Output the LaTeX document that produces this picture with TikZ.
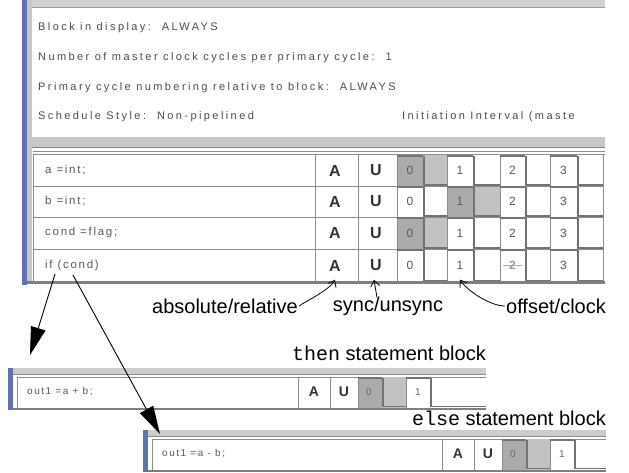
\documentclass[tikz,border=0pt]{standalone}
\usepackage{fontspec}
\setmainfont{Liberation Sans}
\newfontfamily\scrfont[LetterSpace=22]{Liberation Sans}
\newfontfamily\cellfont[LetterSpace=15]{Liberation Sans}
\newfontfamily\monofont{Liberation Mono}
\usetikzlibrary{arrows.meta,calc}
\definecolor{barblue}{RGB}{96,114,176}
\tikzset{
  hdr/.style={anchor=west, font=\scrfont\fontsize{11}{13}\selectfont, text=black!70, inner sep=0pt},
  celltxt/.style={anchor=west, font=\cellfont\fontsize{11.5}{13}\selectfont, text=black!65, inner sep=0pt},
  minitxt/.style={anchor=west, font=\cellfont\fontsize{10}{12}\selectfont, text=black!65, inner sep=0pt},
  AU/.style={font=\bfseries\fontsize{16}{18}\selectfont, text=black!80, inner sep=0pt, minimum width=36pt, minimum height=30pt},
  miniAU/.style={font=\bfseries\fontsize{14}{16}\selectfont, text=black!80, inner sep=0pt, minimum width=28pt, minimum height=29pt},
  num/.style={font=\fontsize{12}{14}\selectfont, text=black!65, inner sep=0pt, minimum width=24pt, minimum height=30pt},
  mininum/.style={font=\fontsize{10}{12}\selectfont, text=black!60, inner sep=0pt, minimum width=22pt, minimum height=29pt},
  lab/.style={font=\fontsize{20}{22}\selectfont, inner sep=0pt},
  light/.style={draw=black!35, line width=0.8pt},
  dark/.style={draw=black!55, line width=1.6pt},
  pinarrow/.style={-{Straight Barb[length=6pt,width=9pt]}, line width=0.8pt},
  bigarrow/.style={-{Triangle[length=28pt,width=15pt]}, line width=0.9pt},
}
\newcommand{\minipanel}[6]{%
\begin{scope}[shift={(#1,#2)}]
 \fill[white] (0,0) rectangle (#4,42);
 \fill[barblue] (0,0) rectangle (5,42);
 \fill[black!20] (5,0) rectangle (#4,6);
 \draw[black!45] (5,6.5) -- (#4,6.5);
 \draw[black!45] (9,9) -- (#4,9);
 \fill[black!50] (5,39.5) rectangle (#4,42);
 \draw[black!45] (9,9) -- (9,39.5);
 \fill[black!33] (#3+60,9) rectangle (#3+84,39.5);
 \fill[black!24] (#3+84,9) rectangle (#3+108,39.5);
 \foreach \x in {#3,#3+32,#3+60,#3+108} \draw[black!45] (\x,9) -- (\x,39.5);
 \draw[dark] (#3+60,10) -- (#3+84,10);
 \draw[dark] (#3+84.8,10) -- (#3+84.8,38.5) -- (#3+108,38.5);
 \draw[dark] (#3+108,10) -- (#3+132,10);
 \draw[dark] (#3+132.8,10) -- (#3+132.8,38.5) -- (#4,38.5);
 \node[minitxt] (#6t) at (19,24) {#5};
 \node[miniAU] (#6A) at (#3+16,24) {A};
 \node[miniAU] (#6U) at (#3+46,24) {U};
 \node[mininum] (#6n0) at (#3+71,24) {0};
 \node[mininum] (#6n1) at (#3+120,24) {1};
\end{scope}}
\begin{document}
\begin{tikzpicture}[x=1pt,y=-1pt]
\useasboundingbox (0,0) rectangle (629,472);
\fill[white] (0,0) rectangle (629,472);

% ---------- top panel ----------
\fill[barblue] (22,0) rectangle (27,285);
\fill[black!22] (27,0) rectangle (32,283);
\fill[black!18] (32,0) rectangle (605,7);
\draw[black!40] (32,7.5) -- (605,7.5);
\begin{scope}
\clip (32,0) rectangle (605,300);
\node[hdr] (h1) at (38,28) {Block in display:\ \ ALWAYS};
\node[hdr] (h2) at (38,58) {Number of master clock cycles per primary cycle:\ \ 1};
\node[hdr] (h3) at (38,88) {Primary cycle numbering relative to block:\ \ ALWAYS};
\node[hdr] (h4) at (38,117) {Schedule Style:\ \ Non-pipelined};
\node[hdr] (h5) at (402,117) {Initiation Interval (maste};
\end{scope}
\fill[black!22] (32,137) rectangle (605,147);
\draw[black!50] (32,147.5) -- (605,147.5);
\draw[black!45] (33,151) -- (605,151);
\draw[black!45] (33,154.5) -- (605,154.5);

% highlighted cells
\fill[black!33] (397,155) rectangle (423,186);
\fill[black!24] (423,155) rectangle (447,186);
\fill[black!33] (447,186) rectangle (473,217);
\fill[black!24] (473,186) rectangle (500,217);
\fill[black!33] (397,217) rectangle (423,249);
\fill[black!24] (423,217) rectangle (447,249);

\foreach \x in {33,315,358,397,447,500,550,603} \draw[black!45] (\x,155) -- (\x,282);
\foreach \r/\t/\b in {1/155/186, 2/186/217, 3/217/249, 4/249/282} {
  \draw[black!45] (33,\b) -- (603,\b);
  \foreach \xn/\xe/\xf in {397/423/447, 447/473/500, 500/525/550, 550/577/603} {
    \draw[dark] (\xn,\t+1.2) -- (\xe,\t+1.2);
    \draw[dark] (\xe+0.8,\t+1.2) -- (\xe+0.8,\b-1) -- (\xf,\b-1);
  }
}
\fill[black!50] (27,280.5) rectangle (605,283.5);

\node[celltxt] (t1) at (45,170.5) {a =int;};
\node[celltxt] (t2) at (45,201.5) {b =int;};
\node[celltxt] (t3) at (45,233) {cond =flag;};
\node[celltxt] (ifc) at (45,265.5) {if (cond)};

\foreach \r/\y in {1/170.5, 2/201.5, 3/233, 4/265.5} {
  \node[AU] (A\r) at (335,\y) {A};
  \node[AU] (U\r) at (376,\y) {U};
}
\foreach \r/\y in {1/170.5, 2/201.5, 3/233} {
  \foreach \d/\x in {0/410, 1/460, 2/512.5, 3/563.5}
    \node[num] (c\r\d) at (\x,\y) {\d};
}
\node[num] (c40) at (410,265.5) {0};
\node[num] (c41) at (460,265.5) {1};
\draw[black!35, line width=1.2pt] (503,265.5) -- (522,265.5);
\node[num, text=black!40, font=\bfseries\fontsize{12}{14}\selectfont] (c42) at (512.5,265.5) {2};
\node[num] (c43) at (563.5,265.5) {3};

% ---------- annotations ----------
\node[lab] (absl) at (225,306) {absolute/relative};
\node[lab] (sync) at (388,306) {sync/unsync};
\node[lab] (offs) at (556,306) {offset/clock};
\draw[pinarrow] ([xshift=1pt]absl.east) .. controls +(7,-5) and +(-5,10) .. ([yshift=1pt]A4.south);
\draw[pinarrow] ([xshift=-11pt,yshift=-1pt]sync.north) -- ([xshift=-2pt,yshift=1pt]U4.south);
\draw[pinarrow] ([xshift=-1pt]offs.west) .. controls +(-14,0) and +(8,12) .. ([yshift=1pt]c41.south);

% ---------- then / else panels ----------
\node[lab, anchor=east] (thenlab) at (486,353) {{\monofont then} statement block};
\minipanel{8}{368}{290}{478}{out1 =a + b;}{tp}
\node[lab, anchor=east] (elselab) at (606,418) {{\monofont else} statement block};
\minipanel{143}{430}{299}{463}{out1 =a - b;}{ep}

% ---------- big arrows (on top) ----------
\coordinate (thenTip) at (30,355);
\coordinate (elseTip) at (160,434);
\draw[bigarrow] ($(ifc.south west)+(10,3)$) -- (thenTip);
\draw[bigarrow] ($(ifc.south west)+(28,4)$) -- (elseTip);
\end{tikzpicture}
\end{document}
